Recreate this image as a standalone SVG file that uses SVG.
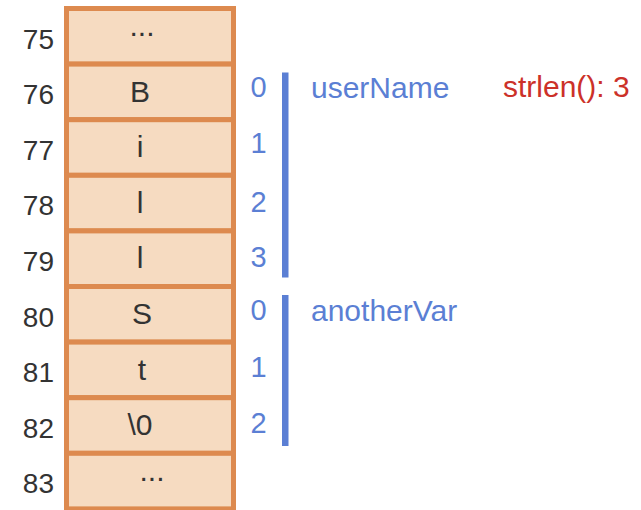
<svg xmlns="http://www.w3.org/2000/svg" width="641" height="510" viewBox="0 0 641 510">
  <style>
    .cell { fill: #f6dbc1; stroke: #dd8a4f; stroke-width: 5; }
    .val { font-family: "Liberation Sans", Arial, sans-serif; font-size: 30px; fill: #333333; text-anchor: middle; }
    .addr { font-family: "Liberation Sans", Arial, sans-serif; font-size: 28px; fill: #333333; text-anchor: end; }
    .idx { font-family: "Liberation Sans", Arial, sans-serif; font-size: 29px; fill: #5b7fd4; text-anchor: middle; }
    .name { font-family: "Liberation Sans", Arial, sans-serif; font-size: 30px; fill: #5b7fd4; }
    .note { font-family: "Liberation Sans", Arial, sans-serif; font-size: 30px; fill: #cc3129; }
    .bar { fill: #5b7fd4; }
  </style>
  <rect width="641" height="510" fill="#ffffff"/>

  <!-- memory cells -->
  <g id="cell-75"><rect class="cell" x="66.5" y="8.5" width="167" height="55.6"/><text class="val" x="142" y="36">...</text><text class="addr" x="54" y="48.5">75</text></g>
  <g id="cell-76"><rect class="cell" x="66.5" y="64.1" width="167" height="55.6"/><text class="val" x="140" y="101.6">B</text><text class="addr" x="54" y="104.1">76</text></g>
  <g id="cell-77"><rect class="cell" x="66.5" y="119.7" width="167" height="55.6"/><text class="val" x="140" y="157.2">i</text><text class="addr" x="54" y="159.7">77</text></g>
  <g id="cell-78"><rect class="cell" x="66.5" y="175.3" width="167" height="55.6"/><text class="val" x="140" y="212.8">l</text><text class="addr" x="54" y="215.3">78</text></g>
  <g id="cell-79"><rect class="cell" x="66.5" y="230.9" width="167" height="55.6"/><text class="val" x="140" y="268.4">l</text><text class="addr" x="54" y="270.9">79</text></g>
  <g id="cell-80"><rect class="cell" x="66.5" y="286.5" width="167" height="55.6"/><text class="val" x="142" y="324">S</text><text class="addr" x="54" y="326.5">80</text></g>
  <g id="cell-81"><rect class="cell" x="66.5" y="342.1" width="167" height="55.6"/><text class="val" x="142" y="379.6">t</text><text class="addr" x="54" y="382.1">81</text></g>
  <g id="cell-82"><rect class="cell" x="66.5" y="397.7" width="167" height="55.6"/><text class="val" x="140" y="435.2">\0</text><text class="addr" x="54" y="437.7">82</text></g>
  <g id="cell-83"><rect class="cell" x="66.5" y="453.3" width="167" height="55.6"/><text class="val" x="152" y="481">...</text><text class="addr" x="54" y="493.3">83</text></g>

  <!-- userName span -->
  <g id="userName">
    <rect class="bar" x="282" y="72.5" width="6.5" height="205"/>
    <text class="idx" x="258.5" y="97">0</text>
    <text class="idx" x="258.5" y="153.3">1</text>
    <text class="idx" x="258.5" y="211.5">2</text>
    <text class="idx" x="258.5" y="267">3</text>
    <text class="name" x="311" y="98">userName</text>
    <text class="note" x="503" y="97">strlen(): 3</text>
  </g>

  <!-- anotherVar span -->
  <g id="anotherVar">
    <rect class="bar" x="282" y="295" width="6.5" height="151"/>
    <text class="idx" x="258.5" y="320">0</text>
    <text class="idx" x="258.5" y="376.7">1</text>
    <text class="idx" x="258.5" y="433.3">2</text>
    <text class="name" x="311" y="320.5">anotherVar</text>
  </g>

  <g id="connectors"></g>
</svg>
